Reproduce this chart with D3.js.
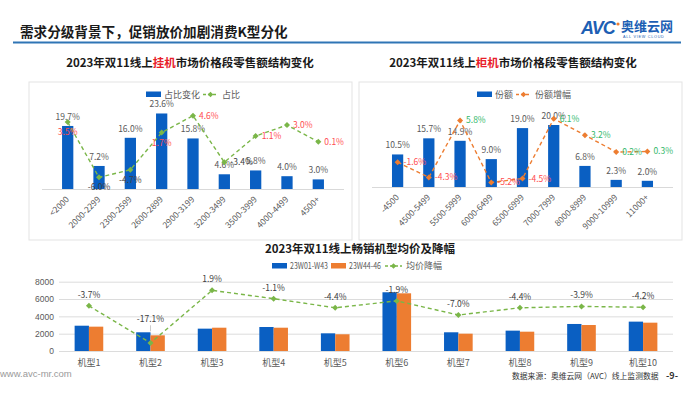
<!DOCTYPE html>
<html>
<head>
<meta charset="utf-8">
<script src="https://cdn.jsdelivr.net/npm/d3@7"></script>
<style>
  body { margin: 0; background: #fff; }
  svg { display: block; font-family: "Noto Sans CJK SC", "Noto Sans", sans-serif; }
</style>
</head>
<body>
<svg id="chart" width="700" height="394"></svg>
<script>
// 挂机 (left panel)
const hangCats = ['<2000', '2000-2299', '2300-2599', '2600-2899', '2900-3199', '3200-3499', '3500-3999', '4000-4499', '4500+']
const hangShare = [19.7, 7.2, 16.0, 23.6, 15.8, 4.6, 5.8, 4.0, 3.0]
const hangChange = [3.5, -6.0, -4.7, 1.7, 4.6, -3.4, 1.1, 3.0, 0.1]

// 柜机 (right panel)
const cabCats = ['-4500', '4500-5499', '5500-5999', '6000-6499', '6500-6999', '7000-7999', '8000-8999', '9000-10999', '11000+']
const cabShare = [10.5, 15.7, 14.9, 9.0, 19.0, 20.0, 6.8, 2.3, 2.0]
const cabChange = [-1.6, -4.3, 5.8, -5.2, -4.5, 6.1, 3.2, 0.2, 0.3]

// 畅销机型 (bottom)
const models = ['机型1', '机型2', '机型3', '机型4', '机型5', '机型6', '机型7', '机型8', '机型9', '机型10']
const priceW01 = [2920, 2160, 2580, 2770, 2040, 6780, 2160, 2350, 3120, 3390]
const priceW44 = [2810, 1810, 2690, 2690, 1930, 6660, 2000, 2230, 3000, 3270]
const priceDrop = [-3.7, -17.1, 1.9, -1.1, -4.4, -1.9, -7.0, -4.4, -3.9, -4.2]
const priceTicks = [0, 2000, 4000, 6000, 8000]

const BLUE = '#0a5fc2'
const ORANGE = '#ed7d31'
const GREEN = '#7ab648'
const GRAY = '#595959'
const fmt = v => v.toFixed(1) + '%'

const svg = d3.select('#chart')

// header
svg.append('text').attr('x', 20).attr('y', 37)
  .attr('font-size', 13.6).attr('font-weight', 'bold').attr('fill', '#1a1a1a')
  .text('需求分级背景下，促销放价加剧消费K型分化')
svg.append('line').attr('x1', 13).attr('x2', 681).attr('y1', 42.5).attr('y2', 42.5)
  .attr('stroke', '#2f75b5').attr('stroke-width', 2)

// logo
const logo = svg.append('g')
logo.append('text').attr('x', 581).attr('y', 34).attr('font-size', 18).attr('font-weight', 'bold')
  .attr('font-style', 'italic').attr('font-family', 'Liberation Sans, sans-serif').attr('fill', '#1d5fb4')
  .attr('letter-spacing', -1).text('AVC')
logo.append('circle').attr('cx', 618).attr('cy', 24).attr('r', 1.6).attr('fill', ORANGE)
logo.append('text').attr('x', 621).attr('y', 31).attr('font-size', 13).attr('font-weight', 'bold')
  .attr('fill', '#1d5fb4').text('奥维云网')
logo.append('text').attr('x', 623).attr('y', 38).attr('font-size', 3.8).attr('fill', '#1d5fb4')
  .attr('font-family', 'Liberation Sans, sans-serif').attr('letter-spacing', 0.7).text('ALL VIEW CLOUD')

function diamond(g, x, y, color, r) {
  g.append('path')
    .attr('d', `M${x},${y - r}L${x + r},${y}L${x},${y + r}L${x - r},${y}Z`)
    .attr('fill', color)
}

// one price-band panel
function panel(opt) {
  const g = svg.append('g')
  g.append('rect').attr('x', opt.box[0]).attr('y', 82).attr('width', opt.box[1]).attr('height', 158)
    .attr('fill', '#fff').attr('stroke', '#e3e3e3')

  // subtitle with red highlight
  const t = g.append('text').attr('x', opt.titleX).attr('y', 67).attr('text-anchor', 'middle')
    .attr('font-size', 11.5).attr('font-weight', 'bold').attr('fill', '#1a1a1a')
  t.append('tspan').text('2023年双11线上')
  t.append('tspan').attr('fill', '#e8202a').text(opt.hl)
  t.append('tspan').text('市场价格段零售额结构变化')

  const x = d3.scaleBand().domain(opt.cats).range(opt.xr).padding(0.64)
  const y = d3.scaleLinear().domain([0, 30]).range([opt.base, opt.top])
  const y2 = d3.scaleLinear().domain(opt.lineDom).range([opt.base, opt.top])
  const cx = d => x(d) + x.bandwidth() / 2

  g.append('line').attr('x1', opt.xr[0]).attr('x2', opt.xr[1])
    .attr('y1', opt.base + 0.5).attr('y2', opt.base + 0.5).attr('stroke', '#d9d9d9')

  g.selectAll('rect.bar').data(opt.bars).enter().append('rect').attr('class', 'bar')
    .attr('x', (d, i) => x(opt.cats[i])).attr('width', x.bandwidth())
    .attr('y', d => y(d)).attr('height', d => opt.base - y(d)).attr('fill', BLUE)

  g.selectAll('text.bl').data(opt.bars).enter().append('text').attr('class', 'bl')
    .attr('x', (d, i) => cx(opt.cats[i])).attr('y', d => y(d) - 6)
    .attr('text-anchor', 'middle').attr('font-size', 8.5).attr('fill', GRAY).text(fmt)

  // x labels
  opt.cats.forEach(c => {
    g.append('text').attr('transform', `translate(${cx(c) + 2},${opt.base + 11}) rotate(-45)`)
      .attr('text-anchor', 'end').attr('font-size', 8.5).attr('fill', GRAY).text(c)
  })

  // line
  const line = d3.line().x((d, i) => cx(opt.cats[i])).y(d => y2(d))
  g.append('path').datum(opt.line).attr('d', line).attr('fill', 'none')
    .attr('stroke', opt.lineColor).attr('stroke-width', 1.4).attr('stroke-dasharray', '4,3')
  opt.line.forEach((d, i) => diamond(g, cx(opt.cats[i]), y2(d), opt.lineColor, 3))

  g.selectAll('text.ll').data(opt.line).enter().append('text').attr('class', 'll')
    .attr('x', (d, i) => cx(opt.cats[i]) + (opt.below(i) ? 0 : 6))
    .attr('y', d => y2(d) + 3)
    .attr('dy', (d, i) => opt.below(i) ? 10 : 0)
    .attr('text-anchor', (d, i) => opt.below(i) ? 'middle' : 'start')
    .attr('font-size', 8.5).attr('fill', d => d >= 0 ? opt.pos : opt.neg).text(fmt)

  // legend
  const lg = g.append('g')
  const lx = opt.legendX
  lg.append('rect').attr('x', lx).attr('y', 91.5).attr('width', 15).attr('height', 5.5).attr('fill', BLUE)
  lg.append('text').attr('x', lx + 18).attr('y', 97.5).attr('font-size', 9).attr('fill', GRAY).text(opt.names[0])
  const lx2 = lx + 18 + opt.names[0].length * 9 + 3
  lg.append('line').attr('x1', lx2).attr('x2', lx2 + 15).attr('y1', 94.5).attr('y2', 94.5)
    .attr('stroke', opt.lineColor).attr('stroke-width', 1.4).attr('stroke-dasharray', '3,2')
  diamond(lg, lx2 + 7.5, 94.5, opt.lineColor, 2.8)
  lg.append('text').attr('x', lx2 + 19).attr('y', 97.5).attr('font-size', 9).attr('fill', GRAY).text(opt.names[1])
}

panel({
  box: [29, 323], titleX: 190, hl: '挂机', cats: hangCats, bars: hangShare, line: hangChange,
  xr: [42, 344], base: 189, top: 93, lineDom: [-8, 8.5], lineColor: GREEN,
  pos: '#ff4d4f', neg: '#404040', below: i => i < 4,
  legendX: 146, names: ['占比变化', '占比']
})
panel({
  box: [359, 323], titleX: 513, hl: '柜机', cats: cabCats, bars: cabShare, line: cabChange,
  xr: [372, 673], base: 187, top: 94, lineDom: [-6, 10.5], lineColor: ORANGE,
  pos: '#33b86b', neg: '#ff4d4f', below: i => false,
  legendX: 477, names: ['份额', '份额增幅']
})

// bottom chart
svg.append('text').attr('x', 360).attr('y', 253).attr('text-anchor', 'middle')
  .attr('font-size', 11.5).attr('font-weight', 'bold').attr('fill', '#1a1a1a')
  .text('2023年双11线上畅销机型均价及降幅')

const bx = d3.scaleBand().domain(models).range([58, 674]).paddingInner(0.535).paddingOuter(0.27)
const sub = d3.scaleBand().domain(['a', 'b']).range([0, bx.bandwidth()])
const by = d3.scaleLinear().domain([0, 8000]).range([351, 281.7])
const by2 = d3.scaleLinear().domain([-20, 6]).range([351, 279])
const mx = m => bx(m) + bx.bandwidth() / 2

const bg = svg.append('g')
bg.selectAll('line.grid').data(priceTicks).enter().append('line')
  .attr('x1', 59).attr('x2', 673).attr('y1', d => by(d) + 0.5).attr('y2', d => by(d) + 0.5)
  .attr('stroke', '#dcdcdc')
bg.append('g').attr('transform', 'translate(54,0)')
  .call(d3.axisLeft(by).tickValues(priceTicks).tickFormat(d3.format('d')).tickSize(0).tickPadding(0))
  .call(a => a.select('.domain').remove())
  .selectAll('text').attr('font-size', 8.5).attr('fill', GRAY).attr('font-family', 'Liberation Sans, sans-serif')

models.forEach((m, i) => {
  bg.append('rect').attr('x', bx(m)).attr('width', sub.bandwidth())
    .attr('y', by(priceW01[i])).attr('height', 351 - by(priceW01[i])).attr('fill', BLUE)
  bg.append('rect').attr('x', bx(m) + sub('b')).attr('width', sub.bandwidth())
    .attr('y', by(priceW44[i])).attr('height', 351 - by(priceW44[i])).attr('fill', ORANGE)
  bg.append('text').attr('x', mx(m)).attr('y', 366).attr('text-anchor', 'middle')
    .attr('font-size', 9).attr('fill', GRAY).text(m)
})

bg.append('path').datum(priceDrop)
  .attr('d', d3.line().x((d, i) => mx(models[i])).y(d => by2(d)))
  .attr('fill', 'none').attr('stroke', GREEN).attr('stroke-width', 1.4).attr('stroke-dasharray', '4,3')
priceDrop.forEach((d, i) => {
  const px = mx(models[i]), py = by2(d)
  diamond(bg, px, py, GREEN, 3)
  const top = by(priceW01[i])
  let ly = py - 8
  if (py - top > 10) {
    ly = top - 10
    bg.append('line').attr('x1', px).attr('x2', px).attr('y1', ly + 3).attr('y2', top - 1)
      .attr('stroke', '#bfbfbf').attr('stroke-width', 0.8)
  }
  bg.append('text').attr('x', px).attr('y', ly).attr('text-anchor', 'middle')
    .attr('font-size', 8.5).attr('fill', '#404040').text(fmt(d))
})

// bottom legend
const bl = svg.append('g').attr('font-size', 8.5).attr('fill', GRAY)
bl.append('rect').attr('x', 272).attr('y', 263).attr('width', 15).attr('height', 5.5).attr('fill', BLUE)
bl.append('text').attr('x', 290).attr('y', 269).attr('textLength', 38).attr('lengthAdjust', 'spacingAndGlyphs')
  .text('23W01-W43')
bl.append('rect').attr('x', 331).attr('y', 263).attr('width', 15).attr('height', 5.5).attr('fill', ORANGE)
bl.append('text').attr('x', 349).attr('y', 269).attr('textLength', 32).attr('lengthAdjust', 'spacingAndGlyphs')
  .text('23W44-46')
bl.append('line').attr('x1', 385).attr('x2', 402).attr('y1', 266).attr('y2', 266)
  .attr('stroke', GREEN).attr('stroke-width', 1.4).attr('stroke-dasharray', '3,2')
diamond(bl, 393.5, 266, GREEN, 2.8)
bl.append('text').attr('x', 406).attr('y', 269).attr('font-size', 9).text('均价降幅')

// footer
svg.append('text').attr('x', 0).attr('y', 377).attr('font-size', 9.5).attr('fill', '#9a9a9a')
  .attr('font-family', 'Liberation Sans, sans-serif').text('www.avc-mr.com')
svg.append('text').attr('x', 512).attr('y', 379).attr('font-size', 7.8).attr('fill', '#333')
  .text('数据来源：奥维云网（AVC）线上监测数据')
svg.append('text').attr('x', 666).attr('y', 379).attr('font-size', 9).attr('font-weight', 'bold')
  .attr('fill', '#333').text('-9-')
</script>
</body>
</html>
